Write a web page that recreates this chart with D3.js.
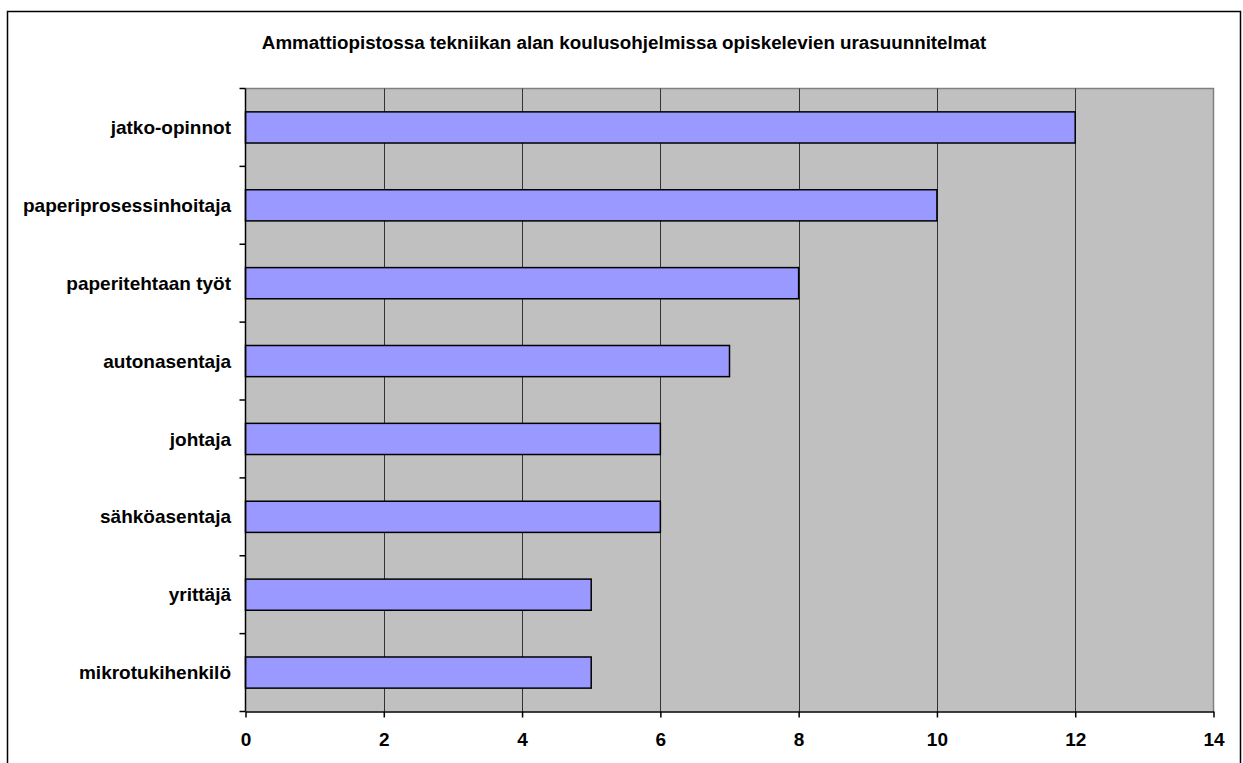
<!DOCTYPE html>
<html><head><meta charset="utf-8">
<script src="https://cdn.jsdelivr.net/npm/d3@7"></script>
<style>body{margin:0;background:#fff}svg{display:block;font-family:"Liberation Sans",Arial,sans-serif}</style>
</head><body><svg id="c" width="1243" height="763"></svg>
<script>
const title = "Ammattiopistossa tekniikan alan koulusohjelmissa opiskelevien urasuunnitelmat";
const categories = ["jatko-opinnot","paperiprosessinhoitaja","paperitehtaan työt","autonasentaja","johtaja","sähköasentaja","yrittäjä","mikrotukihenkilö"];
const values = [12,10,8,7,6,6,5,5];
const xTicks = [0,2,4,6,8,10,12,14];

const svg = d3.select("#c");
const L = 245.5, R = 1213.5, T = 88.5, B = 711.5;
svg.append("rect").attr("x",7.5).attr("y",11.5).attr("width",1233).attr("height",770)
  .attr("fill","#fff").attr("stroke","#000").attr("stroke-width",1.5);

const x = d3.scaleLinear().domain([0,14]).range([L,R]);
const y = d3.scaleBand().domain(categories).range([T,B]).paddingInner(0.6).paddingOuter(0.3);
const yb = d3.scaleBand().domain(categories).range([T,B]);

svg.append("rect").attr("x",L).attr("y",T).attr("width",R-L).attr("height",B-T).attr("fill","#c0c0c0");
svg.append("path").attr("d",`M${L},${T}H${R}V${B}`).attr("fill","none").attr("stroke","#808080").attr("stroke-width",1.5);
svg.append("g").selectAll("line").data(xTicks.slice(1,-1)).join("line")
  .attr("x1",d=>Math.round(x(d))+0.5).attr("x2",d=>Math.round(x(d))+0.5).attr("y1",T).attr("y2",B)
  .attr("stroke","#333").attr("stroke-width",1);

svg.append("g").selectAll("rect").data(values).join("rect")
  .attr("x",L).attr("y",(d,i)=>y(categories[i])).attr("width",d=>x(d)-L).attr("height",y.bandwidth())
  .attr("fill","#9999ff").attr("stroke","#000").attr("stroke-width",1.5);

const xa = svg.append("g").attr("transform",`translate(0,${B})`)
  .call(d3.axisBottom(x).tickValues(xTicks).tickSize(6).tickPadding(15.5).tickSizeOuter(0));
xa.select(".domain").attr("stroke","#000").attr("stroke-width",1.5);
xa.selectAll(".tick line").attr("stroke","#000").attr("stroke-width",1.5);
xa.selectAll("text").attr("font-size",19).attr("font-weight","bold").attr("fill","#000").attr("font-family","Liberation Sans, Arial, sans-serif");

svg.append("line").attr("x1",L).attr("x2",L).attr("y1",T).attr("y2",B).attr("stroke","#000").attr("stroke-width",1.5);
const bounds = categories.map(c=>yb(c)).concat([B]);
svg.append("g").selectAll("line").data(bounds).join("line")
  .attr("x1",L-6).attr("x2",L).attr("y1",d=>d).attr("y2",d=>d).attr("stroke","#000").attr("stroke-width",1.5);
svg.append("g").selectAll("text").data(categories).join("text")
  .attr("x",231).attr("y",d=>yb(d)+yb.bandwidth()/2).attr("dy","0.35em").attr("text-anchor","end")
  .attr("font-size",19).attr("font-weight","bold").text(d=>d);

svg.append("text").attr("x",624).attr("y",49).attr("text-anchor","middle")
  .attr("font-size",18.8).attr("font-weight","bold").text(title);
</script></body></html>
